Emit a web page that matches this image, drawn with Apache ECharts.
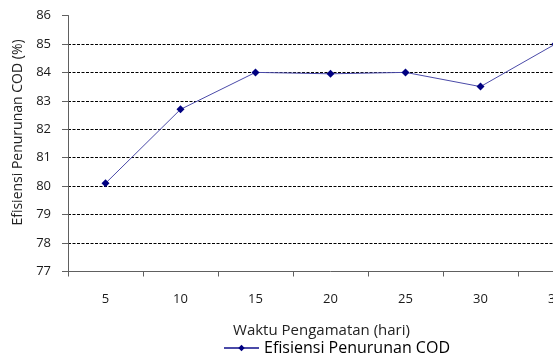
<!DOCTYPE html>
<html><head><meta charset="utf-8">
<script src="https://cdn.jsdelivr.net/npm/echarts@6/dist/echarts.min.js"></script>
<style>html,body{margin:0;padding:0;background:#fff;overflow:hidden;width:553px;height:356px}#c{width:600px;height:356px}</style>
</head><body><div id="c"></div>
<script>
const categories = ['5','10','15','20','25','30','35'];
const efisiensi = [80.1, 82.7, 84.0, 83.95, 84.0, 83.5, 85.0];
const seriesName = 'Efisiensi Penurunan COD';
const yTitle = 'Efisiensi Penurunan COD (%)';
const xTitle = 'Waktu Pengamatan (hari)';

const chart = echarts.init(document.getElementById('c'));
const font = 'Open Sans';
chart.setOption({
  animation: false,
  textStyle: {fontFamily: font},
  grid: {left: 68, top: 15.5, width: 525, height: 256, containLabel: false},
  legend: {
    data: [seriesName], top: 335, left: 218, itemWidth: 35, itemHeight: 8,
    textStyle: {fontSize: 16, color: '#000', fontFamily: font}
  },
  xAxis: {
    type: 'category', data: categories, boundaryGap: true,
    name: xTitle, nameLocation: 'middle', nameGap: 52,
    nameTextStyle: {fontSize: 15, color: '#222', padding: [0, 18, 0, 0]},
    axisLine: {lineStyle: {color: '#606060'}},
    axisTick: {show: true, length: 5, alignWithLabel: false, lineStyle: {color: '#606060'}},
    axisLabel: {margin: 21, fontSize: 13, color: '#1a1a1a'},
    splitLine: {show: false}
  },
  yAxis: {
    type: 'value', min: 77, max: 86, interval: 1,
    name: yTitle, nameLocation: 'middle', nameGap: 42,
    nameTextStyle: {fontSize: 14, color: '#222', padding: [0, 0, 0, 22]},
    axisLine: {show: true, lineStyle: {color: '#606060'}},
    axisTick: {show: true, length: 6, lineStyle: {color: '#606060'}},
    axisLabel: {margin: 17, fontSize: 13, color: '#1a1a1a'},
    splitLine: {show: true, showMinLine: false, showMaxLine: false, lineStyle: {color: '#000', type: [3, 1.5], width: 1}}
  },
  series: [{
    name: seriesName, type: 'line', data: efisiensi,
    symbol: 'diamond', symbolSize: 8,
    lineStyle: {color: '#4a4aa8', width: 1},
    itemStyle: {color: '#000080'}
  }]
});
</script></body></html>
